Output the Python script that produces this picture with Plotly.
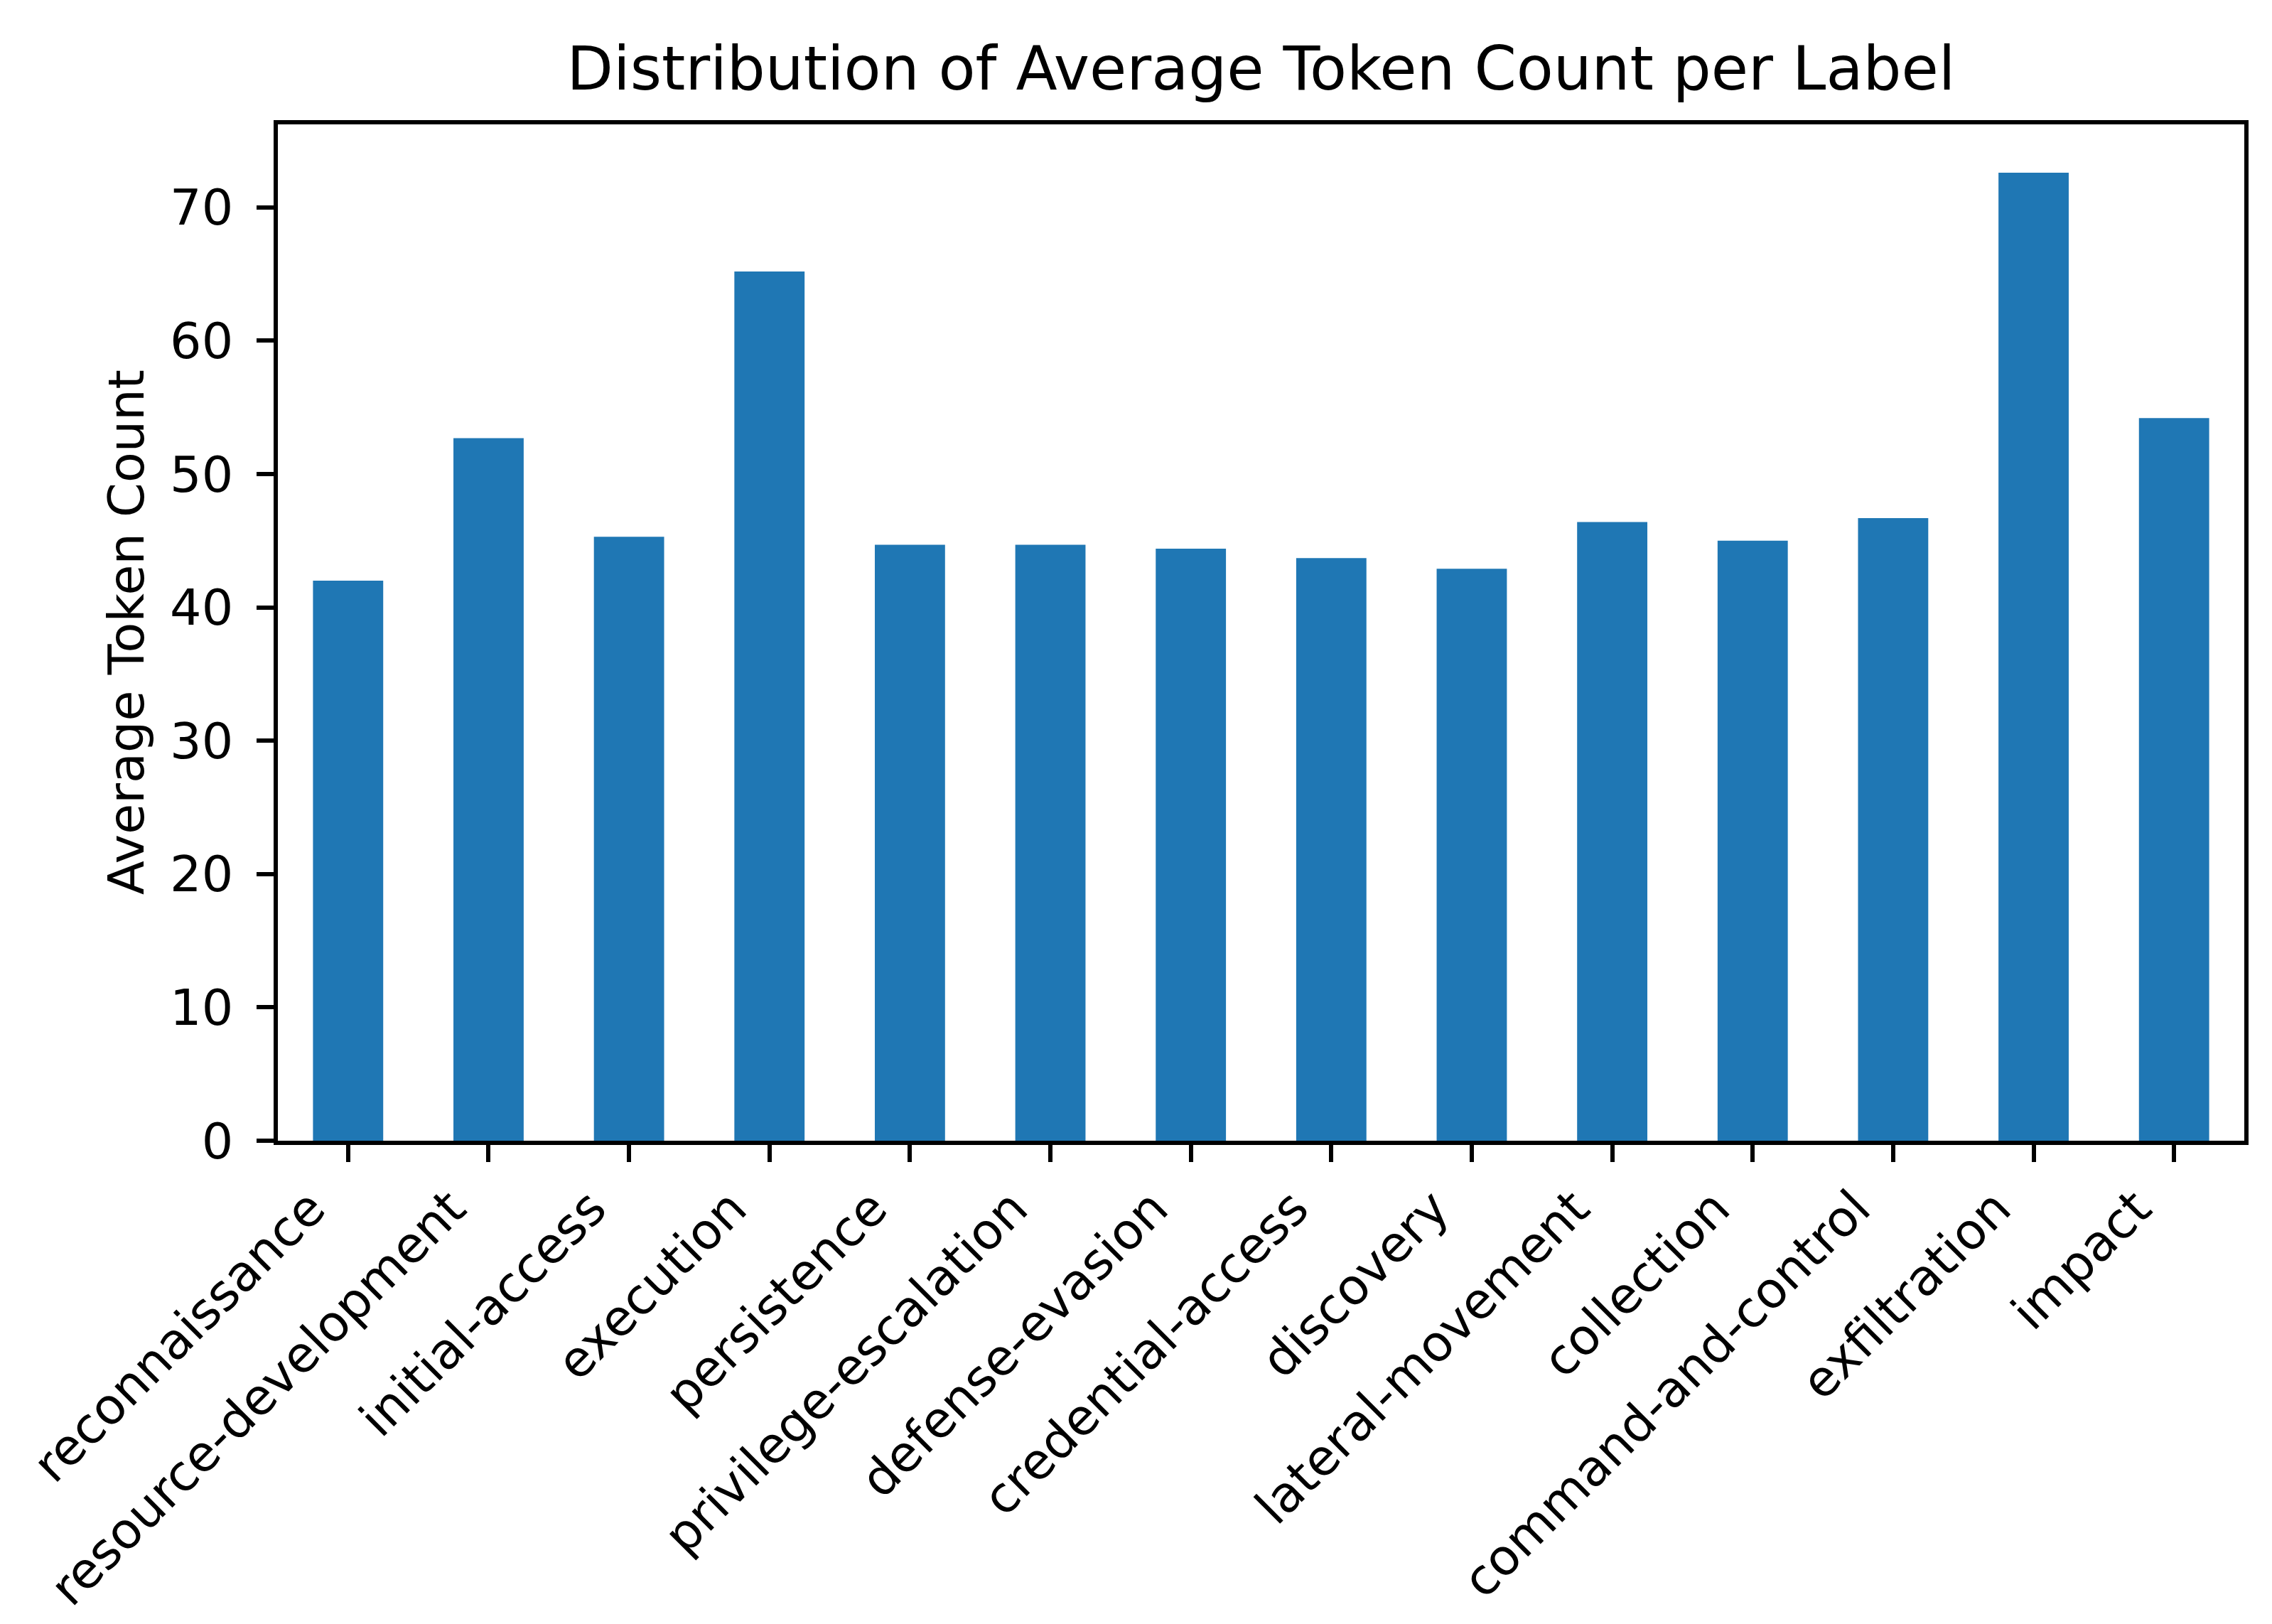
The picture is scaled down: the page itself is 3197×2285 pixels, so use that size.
import plotly.graph_objects as go

categories = ["reconnaissance", "resource-development", "initial-access", "execution",
              "persistence", "privilege-escalation", "defense-evasion", "credential-access",
              "discovery", "lateral-movement", "collection", "command-and-control",
              "exfiltration", "impact"]
avg_tokens = [42.0, 52.7, 45.3, 65.2, 44.7, 44.7, 44.4, 43.7, 42.9, 46.4, 45.0, 46.7, 72.6, 54.2]
y_ticks = [0, 10, 20, 30, 40, 50, 60, 70]

W, H = 3197, 2285
L, R, T, B = 383, 47, 167, 688
FONT = "DejaVu Sans"

fig = go.Figure()
fig.add_trace(go.Bar(x=categories, y=avg_tokens, width=0.5,
                     marker=dict(color="#1f77b4", line=dict(width=0))))

fig.update_layout(
    width=W, height=H,
    margin=dict(l=L, r=R, t=T, b=B, autoexpand=False),
    paper_bgcolor="white", plot_bgcolor="white",
    showlegend=False,
    font=dict(family=FONT, size=70, color="black"),
    title=dict(text="Distribution of Average Token Count per Label",
               font=dict(family=FONT, size=85, color="black"),
               x=0.5, xref="paper", xanchor="center",
               y=1 - 88 / H, yref="container", yanchor="middle"),
)

fig.update_xaxes(
    type="category", range=[-0.5, 13.5], automargin=False,
    showline=True, mirror=True, linecolor="black", linewidth=5.6,
    ticks="outside", ticklen=24, tickwidth=5.6, tickcolor="black",
    tickangle=-45, ticklabelstandoff=-4, ticklabelshift=-53,
    tickfont=dict(family=FONT, size=70, color="black"),
    showgrid=False, zeroline=False,
)
fig.update_yaxes(
    range=[0, max(avg_tokens) * 1.05], automargin=False,
    tickmode="array", tickvals=y_ticks, ticktext=[str(v) for v in y_ticks],
    showline=True, mirror=True, linecolor="black", linewidth=5.6,
    ticks="outside", ticklen=24, tickwidth=5.6, tickcolor="black",
    ticklabelstandoff=19,
    tickfont=dict(family=FONT, size=70, color="black"),
    showgrid=False, zeroline=False,
)

fig.add_annotation(text="Average Token Count", textangle=-90,
                   xref="paper", yref="paper", x=0, y=0.5,
                   xshift=-(L - 170), xanchor="center", yanchor="middle",
                   showarrow=False, font=dict(family=FONT, size=70, color="black"))

fig.write_html("out.html")
